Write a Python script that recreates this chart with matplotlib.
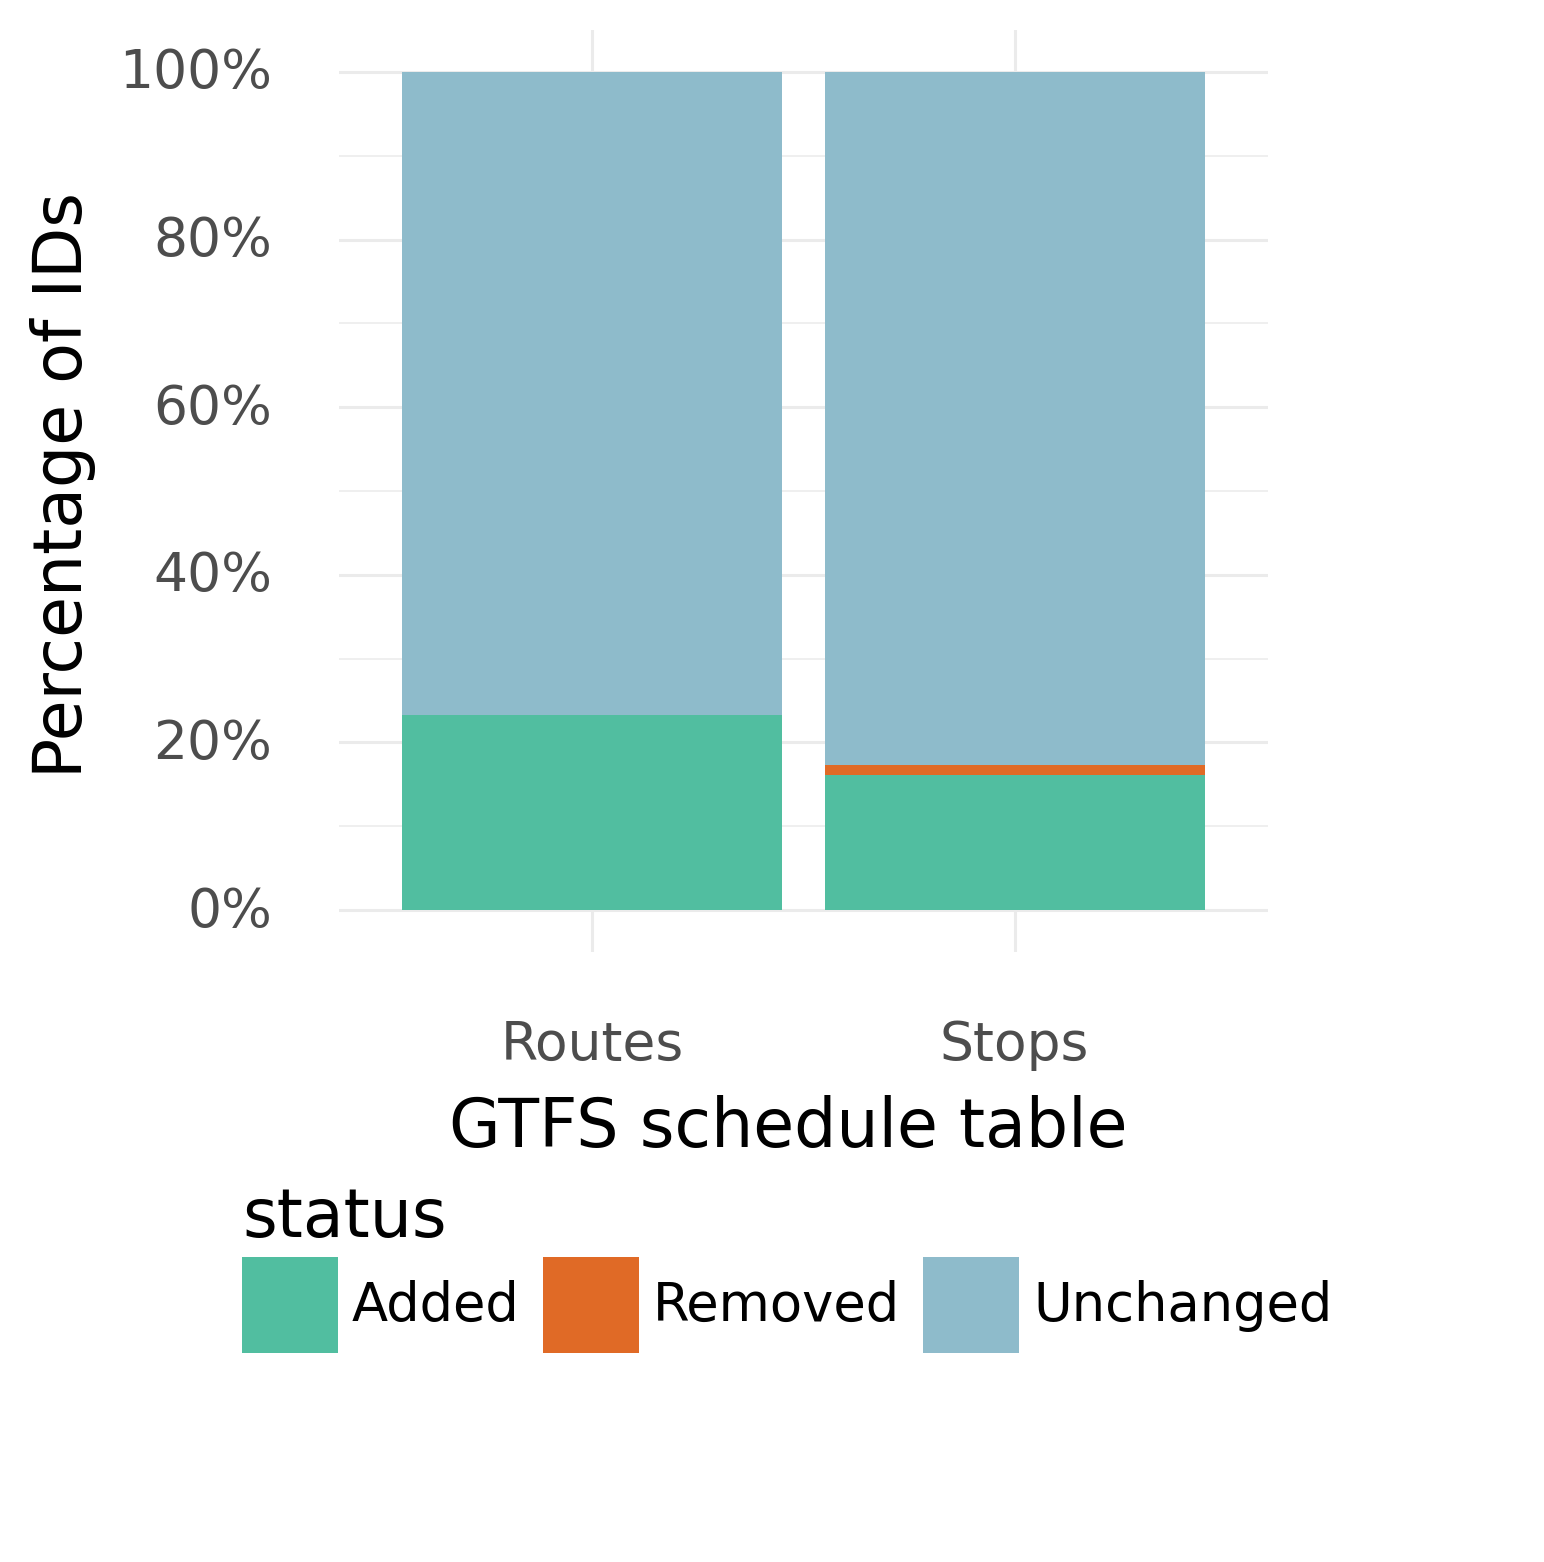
import matplotlib
matplotlib.use("Agg")
import matplotlib.pyplot as plt
from matplotlib.patches import Patch
from matplotlib.ticker import FixedLocator
from matplotlib.transforms import ScaledTranslation

plt.rcParams['font.family'] = ['DejaVu Sans']

# ---- data ----
tables = ["Routes", "Stops"]
statuses = ["Added", "Removed", "Unchanged"]
added = [23.3, 16.1]
removed = [0.0, 1.2]
unchanged = [76.7, 82.7]
colors = {"Added": "#51BEA0", "Removed": "#E06A26", "Unchanged": "#8EBBCB"}
y_ticks = [0, 20, 40, 60, 80, 100]
y_tick_labels = ["0%", "20%", "40%", "60%", "80%", "100%"]
y_minor = [10, 30, 50, 70, 90]

W, H = 1544, 1562
fig = plt.figure(figsize=(W / 100, H / 100), dpi=100)
fig.patch.set_facecolor("white")
L, R, T, B = 339, 1268, 30, 952
ax = fig.add_axes([L / W, 1 - B / H, (R - L) / W, (B - T) / H])

x = list(range(len(tables)))
series = {"Added": added, "Removed": removed, "Unchanged": unchanged}
bottom = [0.0] * len(tables)
for s in statuses:
    vals = series[s]
    ax.bar(x, vals, bottom=bottom, width=0.9, color=colors[s], linewidth=0, zorder=3)
    bottom = [b + v for b, v in zip(bottom, vals)]

ax.set_xlim(-0.6, 1.6)
ax.set_ylim(-5, 105)
ax.set_xticks(x)
ax.set_xticklabels(tables)
ax.set_yticks(y_ticks)
ax.set_yticklabels(y_tick_labels)
ax.yaxis.set_minor_locator(FixedLocator(y_minor))

for sp in ax.spines.values():
    sp.set_visible(False)
ax.tick_params(axis="both", which="both", length=0)
ax.tick_params(axis="y", which="major", labelsize=38.5, labelcolor="#4D4D4D", pad=48)
ax.tick_params(axis="x", which="major", labelsize=38.5, labelcolor="#4D4D4D", pad=48)
for lab in ax.get_yticklabels():
    lab.set_transform(lab.get_transform() + ScaledTranslation(0, 4 / 100, fig.dpi_scale_trans))

ax.set_axisbelow(True)
ax.grid(which="major", axis="both", color="#EBEBEB", linewidth=2.2, zorder=0)
ax.grid(which="minor", axis="y", color="#EBEBEB", linewidth=1.1, zorder=0)

ax.set_xlabel("GTFS schedule table", fontsize=48, color="black")
ax.xaxis.set_label_coords((788 - L) / (R - L), -(1095 - B) / (B - T))
ax.set_ylabel("Percentage of IDs", fontsize=48, color="black")
ax.yaxis.set_label_coords(-(L - 96) / (R - L), (B - 485) / (B - T))

handles = [Patch(facecolor=colors[s], edgecolor="none") for s in statuses]
fs = 38
fs_px = fs * 100 / 72
hl = 96 / fs_px
hh = (hl - 0.245) / 0.65
leg = fig.legend(handles, statuses, ncol=3, loc="upper left",
                 bbox_to_anchor=(242 / W, 1 - 1185 / H), frameon=False,
                 fontsize=fs, title="status", title_fontsize=48,
                 alignment="left", handlelength=hl, handleheight=hh,
                 handletextpad=14 / fs_px, columnspacing=23 / fs_px,
                 labelspacing=6 / fs_px, borderpad=0, borderaxespad=0)

fig.savefig("out.png", dpi=100, facecolor="white")
